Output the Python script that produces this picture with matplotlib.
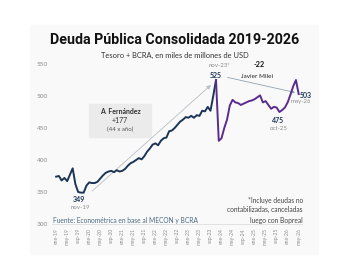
import matplotlib
matplotlib.use("Agg")
import matplotlib.pyplot as plt
from matplotlib.patches import Rectangle
import numpy as np

plt.rcParams['font.family'] = ['Lato', 'DejaVu Sans']

# monthly debt, ene-19 .. nov-23 (Fernandez) and nov-23 .. may-26 (Milei)
fernandez = [374, 375, 368, 372, 367, 377, 387, 362, 350, 349,
             349, 360, 365, 364, 364, 366, 371, 376, 380, 382,
             383, 381, 384, 382, 383, 386, 391, 395, 397, 400,
             403, 401, 406, 413, 418, 424, 426, 423, 430, 434,
             435, 445, 446, 450, 455, 460, 463, 467, 466, 469,
             466, 470, 469, 477, 476, 483, 477, 500, 525]
milei = [525, 430, 434, 450, 463, 485, 494, 490, 489, 486,
         488, 490, 492, 493, 495, 498, 501, 490, 492, 486,
         480, 483, 482, 475, 478, 482, 490, 502, 515, 525, 503]
tick_labels = ["ene-19", "may-19", "sep-19", "ene-20", "may-20", "sep-20",
               "ene-21", "may-21", "sep-21", "ene-22", "may-22", "sep-22",
               "ene-23", "may-23", "sep-23", "ene-24", "may-24", "sep-24",
               "ene-25", "may-25", "sep-25", "ene-26", "may-26"]
yticks = [300, 350, 400, 450, 500, 550]

navy = "#1c3557"
purple = "#5b2c8f"
grey = "#8c8c8c"

fig = plt.figure(figsize=(3.5, 2.79), dpi=100)
fig.patches.append(Rectangle((30/350, 1-254/279), 288/350, 229/279,
                             transform=fig.transFigure, color="#f9f9f9", zorder=-5))
ax = fig.add_axes([52/350, 55/279, 250/350, 160/279])
ax.patch.set_alpha(0)

x1 = np.arange(len(fernandez))
x2 = np.arange(len(milei)) + len(fernandez) - 1
ax.plot(x1, fernandez, color=navy, lw=1.4, solid_joinstyle="round", zorder=3)
ax.plot(x2, milei, color=purple, lw=1.4, solid_joinstyle="round", zorder=3)

ax.set_xlim(-1.5, 89.2)
ax.set_ylim(300, 550)
ax.set_xticks(np.arange(0, 4 * len(tick_labels), 4))
ax.set_xticklabels(tick_labels, rotation=90, fontsize=3.6, color=grey)
ax.set_yticks(yticks)
ax.set_yticklabels([str(v) for v in yticks], fontsize=4.6, color=grey)
ax.tick_params(length=0, pad=3)
for s in ["top", "right", "left"]:
    ax.spines[s].set_visible(False)
ax.spines["bottom"].set_color("#dddddd")
ax.spines["bottom"].set_linewidth(0.6)

fig.text(0.5, 1-40/279, "Deuda Pública Consolidada 2019-2026", ha="center", va="center",
         fontsize=10.3, fontweight="bold", family=["Roboto", "DejaVu Sans"], color="#111111")
fig.text(0.5, 1-55/279, "Tesoro + BCRA, en miles de millones de USD", ha="center",
         va="center", fontsize=5.4, color="#333333")

# arrows
ax.annotate("", xy=(56.9, 520), xytext=(12.3, 348.5),
            arrowprops=dict(arrowstyle="-|>", color="#b8bec4", lw=0.6,
                            mutation_scale=6), zorder=2)
ax.annotate("", xy=(87.7, 504.5), xytext=(61.2, 530),
            arrowprops=dict(arrowstyle="-|>", color="#8fa3b3", lw=0.6,
                            mutation_scale=6), zorder=2)

# Fernandez box
ax.add_patch(Rectangle((12.0, 436), 22.4, 51.5, color="#ebebeb", zorder=1))
ax.text(23.2, 476, "A. Fernández", ha="center", va="center", fontsize=5,
        fontweight="bold", color="#333333")
ax.text(23.2, 462, "+177", ha="center", va="center", fontsize=5, color="#333333")
ax.text(23.2, 447, "(44 x año)", ha="center", va="center", fontsize=4.3, color="#555555")

# point labels
ax.text(8.3, 337.5, "349", ha="center", va="center", fontsize=5, fontweight="bold", color=navy)
ax.text(8.6, 325.5, "nov-19", ha="center", va="center", fontsize=4.4, color=grey)
ax.text(59.2, 547, "nov-23*", ha="center", va="center", fontsize=4.4, color=grey, clip_on=False)
ax.text(57.8, 532.5, "525", ha="center", va="center", fontsize=5, fontweight="bold", color=navy)
ax.text(73.5, 550, "-22", ha="center", va="center", fontsize=5.2, fontweight="bold",
        color="#111111", clip_on=False)
ax.text(72.8, 531, "Javier Milei", ha="center", va="center", fontsize=4.6, color="#222222")
ax.text(80.5, 461, "475", ha="center", va="center", fontsize=5, fontweight="bold", color=navy)
ax.text(80.8, 450, "oct-25", ha="center", va="center", fontsize=4.4, color=grey)
ax.text(90.6, 501.5, "503", ha="center", va="center", fontsize=5, fontweight="bold",
        color=navy, clip_on=False)
ax.text(88.8, 491, "may-26", ha="center", va="center", fontsize=4.4, color=grey, clip_on=False)

ax.text(89.5, 337.5, "*Incluye deudas no", ha="right", va="center", fontsize=4.8,
        color="#444444", clip_on=False)
ax.text(89.5, 322, "contabilizadas, canceladas", ha="right", va="center", fontsize=4.8,
        color="#444444", clip_on=False)
ax.text(89.5, 306, "luego con Bopreal", ha="right", va="center", fontsize=4.8,
        color="#444444", clip_on=False)
ax.text(-1.1, 306, "Fuente: Econométrica en base al MECON y BCRA", ha="left", va="center",
        fontsize=4.8, color="#4a6a85")

fig.savefig("out.png", dpi=100)
